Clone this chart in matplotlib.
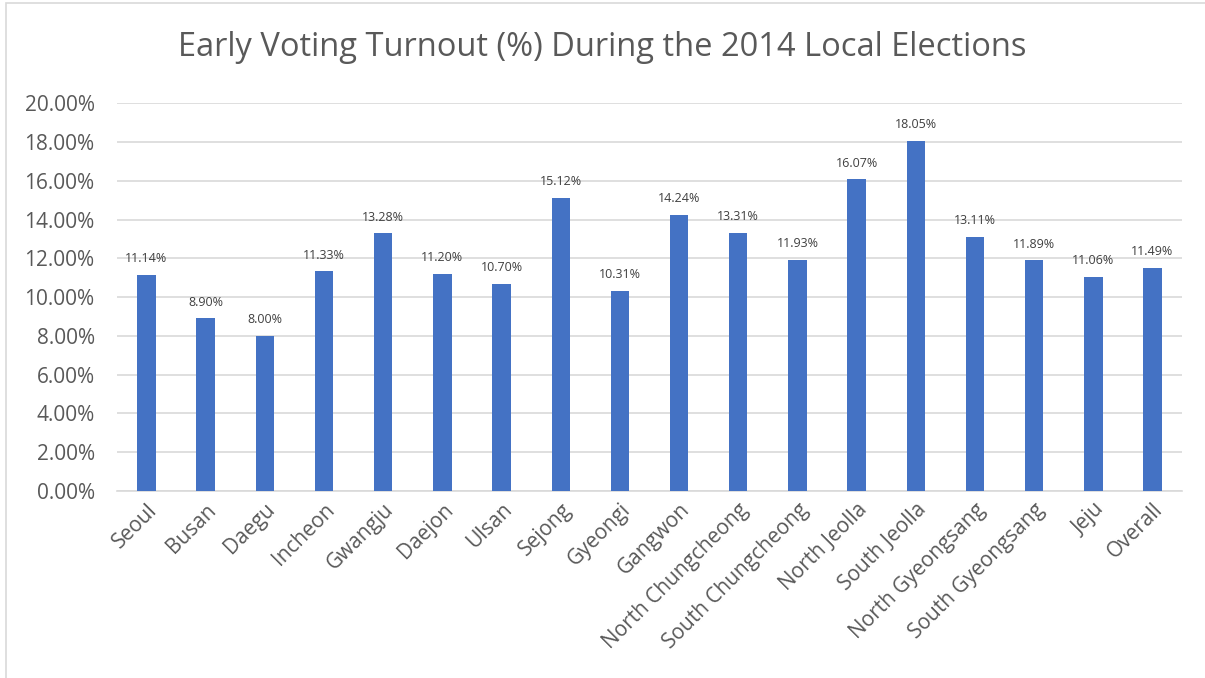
import matplotlib
matplotlib.use("Agg")
import matplotlib.pyplot as plt
from matplotlib.patches import Rectangle
from matplotlib.ticker import FuncFormatter, MultipleLocator

regions = ["Seoul", "Busan", "Daegu", "Incheon", "Gwangju", "Daejon", "Ulsan",
           "Sejong", "Gyeongi", "Gangwon", "North Chungcheong", "South Chungcheong",
           "North Jeolla", "South Jeolla", "North Gyeongsang", "South Gyeongsang",
           "Jeju", "Overall"]
turnout = [11.14, 8.90, 8.00, 11.33, 13.28, 11.20, 10.70, 15.12, 10.31, 14.24,
           13.31, 11.93, 16.07, 18.05, 13.11, 11.89, 11.06, 11.49]

plt.rcParams["font.family"] = ["Open Sans", "DejaVu Sans"]

fig = plt.figure(figsize=(12.05, 6.78), dpi=100)
fig.patches.append(Rectangle((0.005, -0.01), 1.0, 1.005, transform=fig.transFigure,
                             fill=False, edgecolor="#d9d9d9", linewidth=1.2))
ax = fig.add_axes([0.097, 0.2758, 0.884, 0.572])

x = list(range(len(regions)))
bars = ax.bar(x, turnout, width=0.31, color="#4472C4", zorder=3)
for rect, v in zip(bars, turnout):
    ax.annotate(f"{v:.2f}%", (rect.get_x() + rect.get_width() / 2, v),
                xytext=(0, 7), textcoords="offset points", ha="center", va="bottom",
                fontsize=9, color="#404040")

ax.set_xlim(-0.5, len(regions) - 0.5)
ax.set_ylim(0, 20)
ax.yaxis.set_major_locator(MultipleLocator(2))
ax.yaxis.set_major_formatter(FuncFormatter(lambda v, p: f"{v:.2f}%"))
ax.grid(axis="y", color="#d9d9d9", linewidth=1.2, zorder=0)
ax.set_axisbelow(True)
for s in ["top", "right", "left"]:
    ax.spines[s].set_visible(False)
ax.spines["bottom"].set_color("#d9d9d9")
ax.spines["bottom"].set_linewidth(1.2)
ax.tick_params(axis="both", length=0, labelsize=15, labelcolor="#595959")
ax.tick_params(axis="y", pad=16)
ax.tick_params(axis="x", pad=6)
ax.set_xticks(x)
ax.set_xticklabels(regions, rotation=45, ha="right", rotation_mode="anchor")

fig.suptitle("Early Voting Turnout (%) During the 2014 Local Elections",
             y=0.955, fontsize=23.5, color="#595959")

fig.savefig("out.png", dpi=100)
